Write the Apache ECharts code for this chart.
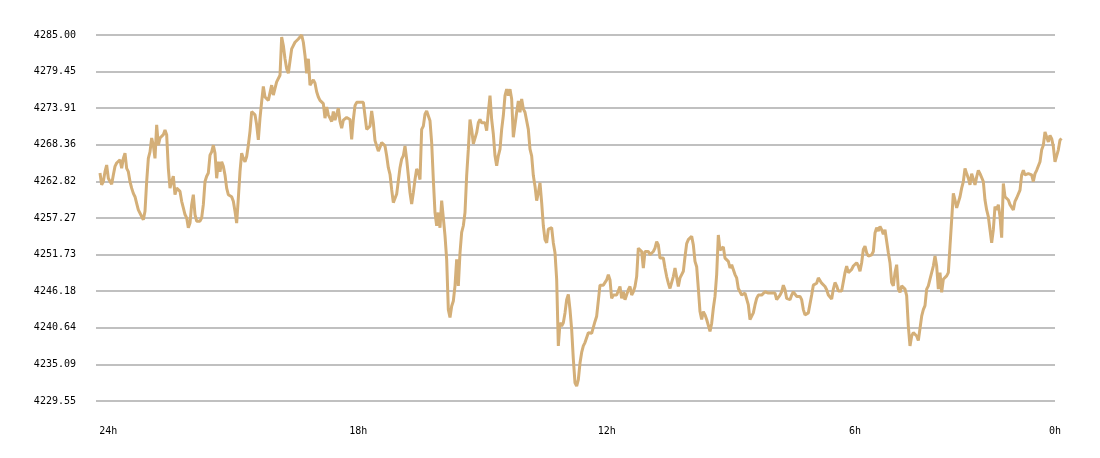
<!DOCTYPE html>
<html>
<head>
<meta charset="utf-8">
<title>price 24h</title>
<script src="https://cdn.jsdelivr.net/npm/echarts@6/dist/echarts.min.js"></script>
<style>
  html, body { margin: 0; padding: 0; background: #fff; }
  #chart { width: 1100px; height: 458px; }
</style>
</head>
<body>
<div id="chart"></div>
<script>
// price readings, oldest (24h) first, split in four chunks
var seg1 = [
  4264.1, 4262.3, 4262.8, 4264.3, 4265.3, 4263.3, 4262.8, 4262.4, 4263.8, 4265.1,
  4265.6, 4265.9, 4266.1, 4264.8, 4266.3, 4267.1, 4264.8, 4264.3, 4262.8, 4261.8,
  4261.0, 4260.5, 4259.5, 4258.5, 4258.3, 4257.5, 4257.0, 4258.3, 4262.8, 4266.3,
  4267.3, 4269.4, 4268.3, 4266.3, 4271.4, 4268.3, 4269.4, 4269.6, 4269.9, 4270.6,
  4269.9, 4264.8, 4261.8, 4262.8, 4263.6, 4260.8, 4261.8, 4261.6, 4261.3, 4259.8,
  4258.8, 4257.8, 4257.3, 4255.8, 4256.5, 4259.3, 4260.8, 4257.8, 4256.8, 4256.5,
  4256.8, 4257.3, 4259.3, 4262.8, 4263.6, 4264.1, 4266.8, 4267.3, 4268.3, 4267.1,
  4263.3, 4265.8, 4264.3, 4265.8, 4265.1, 4263.8, 4261.8, 4260.8, 4260.5, 4260.5,
  4259.8, 4258.3, 4256.5, 4260.3, 4264.3, 4267.1, 4266.3, 4265.8, 4266.6, 4268.3,
  4270.4, 4273.4, 4273.6, 4272.9, 4271.4, 4269.1, 4272.4, 4274.9, 4277.2, 4275.6,
  4275.4, 4275.1, 4274.9, 4277.4, 4275.9, 4276.9, 4277.9, 4278.2, 4278.9, 4284.7,
  4283.4, 4281.4, 4279.9, 4279.2, 4279.2, 4282.9, 4283.4, 4283.9, 4284.2, 4284.4,
  4284.7, 4285.0, 4283.9, 4281.9, 4279.2, 4281.4, 4277.4, 4277.4, 4278.2, 4277.7,
  4276.4, 4275.6, 4275.1, 4274.9, 4274.6, 4272.4, 4274.1, 4272.9, 4272.4, 4271.9,
  4273.4, 4272.1, 4272.4, 4273.9, 4271.9, 4270.9, 4272.1, 4272.4
];
var seg2 = [
  4272.5, 4272.8, 4272.2, 4269.2, 4272.2, 4274.3, 4274.8, 4275.0, 4274.8, 4274.8,
  4274.8, 4275.0, 4270.7, 4270.5, 4271.2, 4273.5, 4271.7, 4269.0, 4268.7, 4267.4,
  4268.0, 4268.7, 4269.0, 4268.2, 4266.7, 4264.9, 4263.9, 4261.6, 4259.6, 4259.9,
  4260.9, 4261.1, 4264.9, 4266.2, 4266.7, 4268.2, 4266.2, 4263.7, 4261.1, 4259.4,
  4261.1, 4263.1, 4264.7, 4264.2, 4263.1, 4270.7, 4271.2, 4273.0, 4273.5, 4273.3,
  4272.0, 4268.7, 4263.1, 4258.1, 4256.1, 4258.1, 4255.8, 4259.9, 4257.3, 4254.6,
  4251.0, 4243.4, 4242.2, 4243.9, 4244.7, 4247.0, 4251.0, 4247.0, 4252.0, 4255.1,
  4256.1, 4258.1, 4263.7, 4267.7, 4272.2, 4270.7, 4268.5, 4268.7, 4270.2, 4271.7,
  4272.2, 4271.7, 4272.0, 4271.7, 4270.5, 4273.3, 4275.8, 4272.2, 4270.0, 4266.7,
  4265.2, 4266.7, 4267.7, 4270.7, 4272.8, 4275.8, 4276.8, 4275.8, 4276.8, 4275.3,
  4269.5, 4269.7, 4273.3, 4275.0, 4273.3, 4275.3, 4273.8, 4273.3, 4273.0, 4270.7,
  4267.7, 4266.7, 4263.7, 4262.1, 4259.9, 4261.1, 4262.6, 4259.6, 4256.1, 4254.0,
  4253.5, 4255.6, 4255.3, 4255.8, 4253.5, 4252.0, 4248.0, 4237.9, 4241.4, 4240.9,
  4241.4, 4242.9, 4244.9, 4245.7, 4243.4, 4240.4, 4235.9, 4232.3, 4231.8, 4232.8,
  4235.3, 4236.9, 4237.9, 4238.4, 4238.6, 4239.9
];
var seg3 = [
  4240.1, 4239.8, 4240.1, 4241.6, 4242.4, 4242.6, 4247.1, 4247.4, 4247.1, 4247.4,
  4247.9, 4248.7, 4247.9, 4245.1, 4245.6, 4245.4, 4245.6, 4245.6, 4246.9, 4245.1,
  4246.1, 4244.9, 4244.6, 4246.4, 4246.9, 4245.6, 4246.1, 4246.9, 4248.4, 4252.7,
  4252.9, 4252.2, 4249.7, 4252.2, 4252.4, 4252.2, 4251.7, 4251.4, 4252.2, 4252.7,
  4253.7, 4253.2, 4251.2, 4251.4, 4251.2, 4249.7, 4248.4, 4247.4, 4246.6, 4246.9,
  4248.4, 4249.7, 4249.7, 4246.9, 4248.2, 4248.7, 4249.2, 4251.4, 4253.4, 4254.0,
  4254.2, 4254.5, 4253.2, 4250.7, 4249.9, 4246.6, 4243.1, 4241.9, 4243.1, 4242.6,
  4241.9, 4242.1, 4240.1, 4241.3, 4243.6, 4245.4, 4248.7, 4254.7, 4252.4, 4252.2,
  4252.9, 4251.2, 4251.2, 4250.7, 4249.7, 4250.2, 4249.9, 4248.7, 4248.2, 4246.6,
  4246.1, 4245.6, 4245.9, 4245.9, 4245.6, 4244.1, 4241.9, 4241.9, 4242.9, 4244.1,
  4245.1, 4245.6, 4245.4, 4245.6, 4245.9, 4246.1, 4246.1, 4245.9, 4245.6, 4245.9,
  4245.6, 4245.9, 4244.9, 4244.9, 4245.6, 4246.1, 4247.1, 4246.4, 4245.1, 4245.4,
  4244.9, 4245.6, 4246.1, 4245.9, 4245.4, 4245.6, 4245.4, 4244.9, 4243.4, 4242.6,
  4242.4, 4242.9, 4242.6, 4245.6, 4247.1, 4246.9, 4247.4, 4248.2, 4248.4, 4247.4,
  4247.1, 4246.9, 4246.4, 4245.6
];
var seg4 = [
  4245.5, 4245.0, 4246.5, 4247.5, 4247.0, 4246.2, 4246.0, 4246.2, 4246.0, 4249.0,
  4250.0, 4249.0, 4249.2, 4249.5, 4250.0, 4250.0, 4250.5, 4250.0, 4249.2, 4250.5,
  4252.5, 4253.0, 4252.0, 4251.5, 4251.2, 4251.7, 4252.2, 4255.0, 4255.8, 4255.3,
  4256.0, 4255.5, 4254.8, 4255.5, 4255.3, 4252.0, 4250.5, 4247.5, 4247.0, 4249.0,
  4250.2, 4246.5, 4246.0, 4247.0, 4247.2, 4246.5, 4245.5, 4240.9, 4237.9, 4239.4,
  4239.9, 4239.7, 4239.4, 4238.7, 4238.4, 4242.4, 4243.4, 4244.0, 4246.5, 4247.0,
  4248.0, 4249.0, 4250.0, 4251.5, 4250.0, 4246.5, 4249.0, 4246.0, 4248.0, 4248.2,
  4248.5, 4249.0, 4253.0, 4257.0, 4261.0, 4260.0, 4258.8, 4259.0, 4260.5, 4261.8,
  4262.8, 4264.8, 4264.0, 4263.3, 4262.3, 4264.0, 4264.0, 4262.3, 4263.5, 4264.5,
  4264.0, 4263.8, 4262.8, 4260.0, 4258.5, 4257.5, 4255.5, 4253.5, 4255.5, 4259.0,
  4258.5, 4259.3, 4257.5, 4254.3, 4262.5, 4260.5, 4260.3, 4260.0, 4259.3, 4259.0,
  4258.5, 4259.8, 4260.3, 4260.0, 4261.5, 4263.8, 4264.5, 4263.8, 4263.8, 4264.0,
  4264.3, 4263.8, 4262.8, 4264.0, 4264.5, 4264.5, 4265.8, 4267.6, 4268.3, 4270.3,
  4270.1, 4268.8, 4269.8, 4269.3, 4268.1, 4265.8, 4265.6, 4267.6, 4269.1, 4269.3
];

// y tick values shown on the left
var yTicks = [4229.55, 4235.09, 4240.64, 4246.18, 4251.73, 4257.27, 4262.82, 4268.36, 4273.91, 4279.45, 4285.00];
// hour labels and the sample index each one sits on
var hourLabels = ['24h', '18h', '12h', '6h', '0h'];
var hourIdx = [5, 155, 304, 453, 573];

var prices = seg1.concat(seg2, seg3, seg4);
var points = prices.map(function (v, i) { return [i, v]; });

var myChart = echarts.init(document.getElementById('chart'));

var labelFont = {color: '#000', fontFamily: 'DejaVu Sans Mono', fontSize: 10};

var option = {
    animation: false,
    backgroundColor: '#ffffff',
    // grid 0 carries the gridlines + labels, grid 1 the price line (runs a bit past the gridlines)
    grid: [
        {left: 96, right: 45, top: 35, bottom: 57},
        {left: 96, right: 38, top: 35, bottom: 57}
    ],
    xAxis: [{
        type: 'value',
        gridIndex: 0,
        min: -2.4,
        max: 573,
        axisLine: {show: false},
        axisTick: {show: false},
        splitLine: {show: false},
        axisLabel: Object.assign({
            customValues: hourIdx,
            margin: 25,
            formatter: function (val) {
                var k = hourIdx.indexOf(val);
                return k >= 0 ? hourLabels[k] : '';
            }
        }, labelFont)
    }, {
        type: 'value',
        gridIndex: 1,
        min: -2.4,
        max: 577.2,
        show: false
    }],
    yAxis: [{
        type: 'value',
        gridIndex: 0,
        min: 4229.55,
        max: 4285,
        axisLine: {show: false},
        axisTick: {show: false, customValues: yTicks},
        splitLine: {show: true, lineStyle: {color: '#c0c0c0', width: 2}},
        axisLabel: Object.assign({
            customValues: yTicks,
            margin: 20,
            formatter: function (val) { return val.toFixed(2); }
        }, labelFont)
    }, {
        type: 'value',
        gridIndex: 1,
        min: 4229.55,
        max: 4285,
        show: false
    }],
    series: [{
        type: 'line',
        xAxisIndex: 1,
        yAxisIndex: 1,
        data: points,
        showSymbol: false,
        clip: false,
        lineStyle: {color: '#d4af78', width: 3},
        itemStyle: {color: '#d4af78'}
    }]
};

myChart.setOption(option);
</script>
</body>
</html>
